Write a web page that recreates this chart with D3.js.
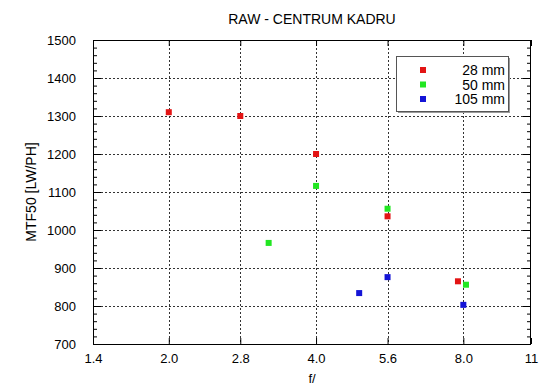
<!DOCTYPE html>
<html><head><meta charset="utf-8">
<script src="https://cdn.jsdelivr.net/npm/d3@7"></script>
<style>body{margin:0;background:#fff}svg{display:block}text{font-family:"Liberation Sans",Arial,sans-serif;fill:#000}</style>
</head><body><svg id="c" width="550" height="389"></svg>
<script>
const xTicks = [1.4, 2.0, 2.8, 4.0, 5.6, 8.0, 11];
const xTickLabels = ["1.4", "2.0", "2.8", "4.0", "5.6", "8.0", "11"];
const yTicks = [700, 800, 900, 1000, 1100, 1200, 1300, 1400, 1500];
const seriesNames = ["28 mm", "50 mm", "105 mm"];
const seriesColors = ["#e31414", "#22e622", "#1414d6"];
const f28 = [2.0, 2.8, 4.0, 5.6, 7.8];
const v28 = [1310, 1300, 1200, 1036, 865];
const f50 = [3.2, 4.0, 5.6, 8.1];
const v50 = [966, 1116, 1056, 856];
const f105 = [4.9, 5.6, 8.0];
const v105 = [834, 876, 803];

const series = [
  {f: f28, v: v28}, {f: f50, v: v50}, {f: f105, v: v105}
];

const svg = d3.select("#c");
const L = 93, R = 531, T = 40, B = 344;
const x = d3.scaleLog().domain([1.4, 11]).range([L, R]);
const y = d3.scaleLinear().domain([700, 1500]).range([B, T]);

// grid
const g = svg.append("g");
g.selectAll(".vg").data(xTicks.slice(1, -1)).enter().append("line")
  .attr("x1", d => Math.round(x(d)) + 0.5).attr("x2", d => Math.round(x(d)) + 0.5)
  .attr("y1", T).attr("y2", B).attr("stroke", "#333").attr("stroke-dasharray", "2,2");
g.selectAll(".hg").data(yTicks.slice(1, -1)).enter().append("line")
  .attr("y1", d => Math.round(y(d)) + 0.5).attr("y2", d => Math.round(y(d)) + 0.5)
  .attr("x1", L).attr("x2", R).attr("stroke", "#333").attr("stroke-dasharray", "2,2");

// axes
svg.append("g").attr("transform", `translate(0,${B})`)
  .call(d3.axisBottom(x).tickValues(xTicks).tickFormat((d, i) => xTickLabels[i]).tickSize(-6).tickPadding(10));
svg.append("g").attr("transform", `translate(0,${T})`)
  .call(d3.axisTop(x).tickValues(xTicks).tickFormat("").tickSize(-6));
const minorY = d3.range(700, 1501, 20);
svg.append("g").attr("transform", `translate(${L},0)`)
  .call(d3.axisLeft(y).tickValues(minorY).tickFormat("").tickSize(-4));
svg.append("g").attr("transform", `translate(${L},0)`)
  .call(d3.axisLeft(y).tickValues(yTicks).tickFormat(d3.format("d")).tickSize(-8).tickPadding(17));
svg.append("g").attr("transform", `translate(${R},0)`)
  .call(d3.axisRight(y).tickValues(minorY).tickFormat("").tickSize(-4));
svg.append("g").attr("transform", `translate(${R},0)`)
  .call(d3.axisRight(y).tickValues(yTicks).tickFormat("").tickSize(-8));
svg.selectAll(".domain").remove();
svg.selectAll(".tick line").attr("stroke", "#000");
svg.selectAll(".tick text").style("font-size", "13px").style("font-family", '"Liberation Sans",Arial,sans-serif');

svg.append("rect").attr("x", L + 0.5).attr("y", T + 0.5).attr("width", R - L - 1).attr("height", B - T)
  .attr("fill", "none").attr("stroke", "#000");

// points
const s = 6;
series.forEach((sr, i) => {
  svg.append("g").selectAll("rect").data(sr.f.map((f, j) => [f, sr.v[j]])).enter().append("rect")
    .attr("x", d => x(d[0]) - s / 2).attr("y", d => y(d[1]) - s / 2)
    .attr("width", s).attr("height", s).attr("fill", seriesColors[i]);
});

// legend
const lg = svg.append("g");
lg.append("rect").attr("x", 398).attr("y", 58).attr("width", 112).attr("height", 55).attr("fill", "#999");
lg.append("rect").attr("x", 396.5).attr("y", 56.5).attr("width", 112).attr("height", 55).attr("fill", "#fff").attr("stroke", "#555");
seriesNames.forEach((n, i) => {
  const yy = 70 + i * 14.5;
  lg.append("rect").attr("x", 420).attr("y", yy - 3).attr("width", s).attr("height", s).attr("fill", seriesColors[i]);
  lg.append("text").attr("x", 505).attr("y", yy + 5).attr("text-anchor", "end").style("font-size", "14px").text(n);
});

// titles
svg.append("text").attr("x", 312).attr("y", 24).attr("text-anchor", "middle").style("font-size", "14px").text("RAW - CENTRUM KADRU");
svg.append("text").attr("x", 312).attr("y", 383).attr("text-anchor", "middle").style("font-size", "13px").text("f/");
svg.append("text").attr("transform", "translate(36,192) rotate(-90)").attr("text-anchor", "middle").style("font-size", "14px").text("MTF50 [LW/PH]");
</script></body></html>
